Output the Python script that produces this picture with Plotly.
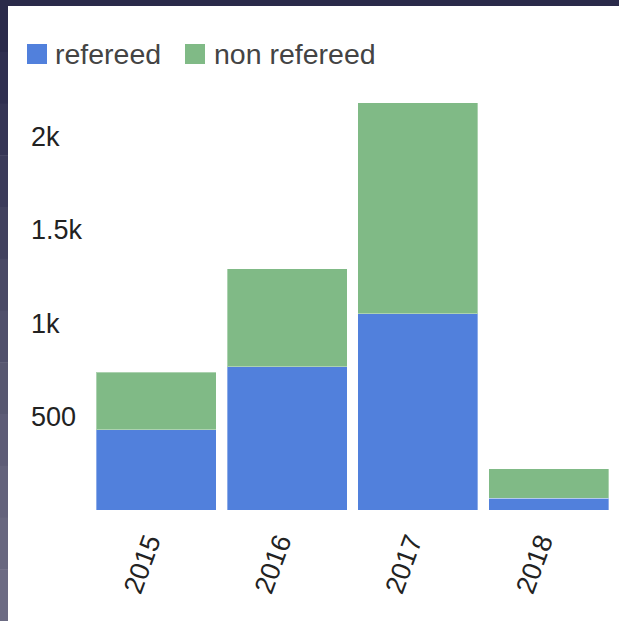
import plotly.graph_objects as go

# Publication counts per year
years = ["2015", "2016", "2017", "2018"]
refereed = [429, 766, 1050, 64]
non_refereed = [309, 525, 1129, 156]

# Y axis ticks
tick_vals = [500, 1000, 1500, 2000]
tick_text = ["500", "1k", "1.5k", "2k"]

series_names = ["refereed", "non refereed"]
series_colors = ["#5180DC", "#80BA86"]

W, H = 619, 621
M_L, M_R, M_T, M_B = 0, 5, 99, 111
plot_w = W - M_L - M_R
plot_h = H - M_T - M_B
x_start_px = 91


def px_x(px):
    return (px - M_L) / plot_w


def px_y(py):
    return (H - M_B - py) / plot_h


fig = go.Figure()
for name, vals, color in zip(series_names, [refereed, non_refereed], series_colors):
    fig.add_trace(go.Bar(
        x=years, y=vals, name=name,
        marker=dict(color=color, line=dict(color="rgba(255,255,255,0.35)", width=1)),
        showlegend=False,
    ))

shapes = []
annotations = []

# dark window frame along the top and left edge
shapes.append(dict(type="rect", xref="paper", yref="paper",
                   x0=px_x(0), x1=px_x(W), y0=px_y(6), y1=px_y(0),
                   fillcolor="#2a2a4a", line=dict(width=0), layer="below"))
frame_cols = ["#2a2a4a", "#2f2f50", "#353555", "#3b3b5a", "#42425f", "#494965",
              "#50506b", "#575770", "#5d5c76", "#63627b", "#68677f", "#6c6b83"]
seg = H / len(frame_cols)
for i, c in enumerate(frame_cols):
    shapes.append(dict(type="rect", xref="paper", yref="paper",
                       x0=px_x(0), x1=px_x(8), y0=px_y(i * seg + seg + 0.5), y1=px_y(i * seg),
                       fillcolor=c, line=dict(width=0), layer="below"))

# legend
legend_items = [(27, 55), (185, 214)]
for (sq_x, tx_x), name, color in zip(legend_items, series_names, series_colors):
    shapes.append(dict(type="rect", xref="paper", yref="paper",
                       x0=px_x(sq_x), x1=px_x(sq_x + 20), y0=px_y(64), y1=px_y(44),
                       fillcolor=color, line=dict(width=0)))
    annotations.append(dict(xref="paper", yref="paper", x=px_x(tx_x - 2), y=px_y(54),
                            xanchor="left", yanchor="middle", showarrow=False,
                            text=name, font=dict(size=28.5, color="#444444",
                                                 family="Liberation Sans, Arial, sans-serif")))

fig.update_layout(
    width=W, height=H,
    margin=dict(l=M_L, r=M_R, t=M_T, b=M_B),
    barmode="stack",
    bargap=0.082,
    paper_bgcolor="white",
    plot_bgcolor="white",
    showlegend=False,
    font=dict(family="Liberation Sans, Arial, sans-serif", size=27, color="#222222"),
    xaxis=dict(
        domain=[px_x(x_start_px), 1],
        showgrid=False, showline=False, zeroline=False, ticks="",
        tickangle=-70, tickfont=dict(size=27, color="#222222"),
        ticklabelstandoff=10, ticklabelshift=-8,
        automargin=False,
    ),
    yaxis=dict(
        anchor="free", position=px_x(27), side="left",
        range=[0, 2200],
        tickvals=tick_vals, ticktext=tick_text,
        ticklabelposition="inside",
        showgrid=False, showline=False, zeroline=False, ticks="",
        tickfont=dict(size=27, color="#222222"),
        automargin=False,
    ),
    shapes=shapes,
    annotations=annotations,
)

fig.write_html("out.html")
